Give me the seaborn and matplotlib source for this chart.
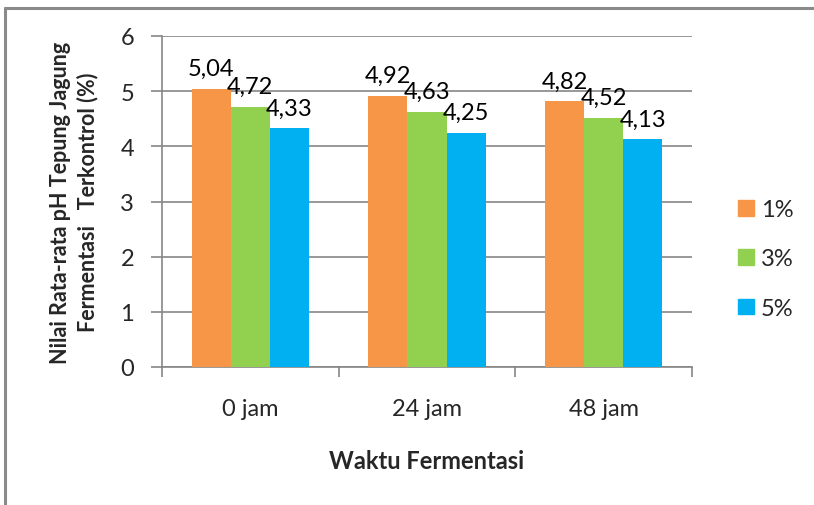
import matplotlib
matplotlib.use("Agg")
import matplotlib.pyplot as plt
import seaborn as sns
import pandas as pd
from matplotlib.lines import Line2D
from matplotlib.patches import Rectangle

categories = ["0 jam", "24 jam", "48 jam"]
series_names = ["1%", "3%", "5%"]
vals_1 = [5.04, 4.92, 4.82]
vals_3 = [4.72, 4.63, 4.52]
vals_5 = [4.33, 4.25, 4.13]
label_1 = ["5,04", "4,92", "4,82"]
label_3 = ["4,72", "4,63", "4,52"]
label_5 = ["4,33", "4,25", "4,13"]
colors = ["#F79646", "#92D050", "#00B0F0"]

rows = []
for s, vals in zip(series_names, [vals_1, vals_3, vals_5]):
    for c, v in zip(categories, vals):
        rows.append({"waktu": c, "konsentrasi": s, "ph": v})
df = pd.DataFrame(rows)

sns.set_theme(style="white")
plt.rcParams['font.family'] = ['Lato', 'DejaVu Sans']

FS = 17

fig = plt.figure(figsize=(8.14, 5.06), dpi=100)
ax = fig.add_axes([162/814, 1-368/506, 530/814, 331/506])

sns.barplot(data=df, x="waktu", y="ph", hue="konsentrasi", order=categories,
            hue_order=series_names, palette=colors, width=0.665, gap=0,
            saturation=1, errorbar=None, ax=ax, legend=False, zorder=3,
            linewidth=0, edgecolor="none")

ax.set_xlim(-0.5, 2.5)
ax.set_ylim(0, 6)
ax.set_yticks(range(0, 7))
ax.yaxis.grid(True, color="#868686", linewidth=1.2, zorder=0)
ax.set_axisbelow(True)
for side in ["top", "right"]:
    ax.spines[side].set_visible(False)
ax.spines["left"].set_color("#868686")
ax.spines["left"].set_linewidth(1.2)
ax.spines["bottom"].set_color("#868686")
ax.spines["bottom"].set_linewidth(1.2)

ax.tick_params(axis="y", length=8, width=1.2, color="#868686", labelsize=FS, pad=12, left=True)
ax.set_xticks([-0.5, 0.5, 1.5, 2.5], minor=True)
ax.tick_params(axis="x", which="minor", length=7, width=1.2, color="#868686", bottom=True)
ax.tick_params(axis="x", which="major", length=0, labelsize=FS, pad=22)

labels_all = [label_1, label_3, label_5]
for cont, labs in zip(ax.containers, labels_all):
    ax.bar_label(cont, labels=labs, padding=7, fontsize=FS, color="black")

ax.set_xlabel("Waktu Fermentasi", fontsize=FS, fontweight="bold", labelpad=22)
ax.set_ylabel("Nilai Rata-rata pH Tepung Jagung\nFermentasi   Terkontrol (%)",
              fontsize=15.5, fontweight="bold", labelpad=16, linespacing=1.3)

# Legend
handles = [Rectangle((0, 0), 1, 1, color=c) for c in colors]
fig.legend(handles, series_names, loc="center left", bbox_to_anchor=(717/814, 1-260/506),
           frameon=False, fontsize=FS, handlelength=0.65, handleheight=0.65,
           labelspacing=1.2, handletextpad=0.3)

# Outer border (top and left visible)
fig.add_artist(Line2D([5/814, 1], [1-8.5/506, 1-8.5/506], color="#8a8a8a", linewidth=2.2,
                      transform=fig.transFigure))
fig.add_artist(Line2D([5/814, 5/814], [0, 1-8.5/506], color="#8a8a8a", linewidth=2.2,
                      transform=fig.transFigure))

fig.savefig("out.png", dpi=100)
